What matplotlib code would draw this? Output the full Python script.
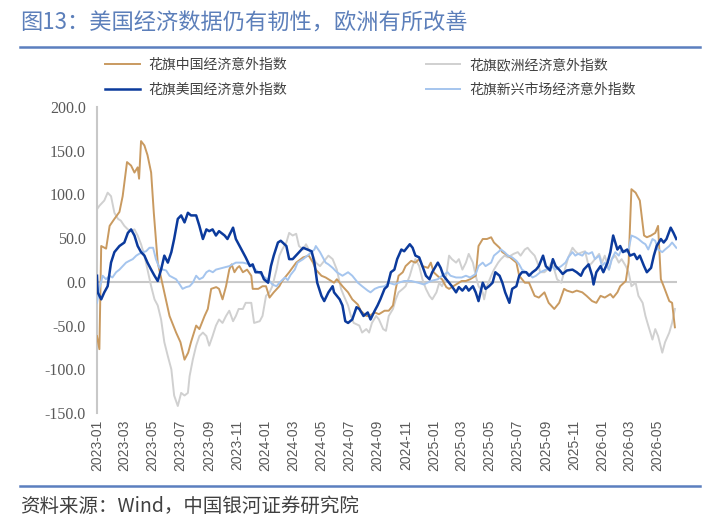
import numpy as np
import pandas as pd
import matplotlib
matplotlib.use("Agg")
import matplotlib.pyplot as plt
import matplotlib.dates as mdates
from matplotlib.lines import Line2D

# 数据：月份偏移（自2023-01起）与指数值，读自原图
cn_t = [0, 0.17, 0.3, 0.65, 0.9, 1.24, 1.6, 1.83, 2.14, 2.43, 2.67, 2.9, 3.0, 3.14, 3.38, 3.6,
        3.86, 4.05, 4.33, 4.7, 5.17, 5.64, 5.95, 6.24, 6.5, 6.7, 7.07, 7.3, 7.67, 7.9, 8.14, 8.5,
        8.7, 8.95, 9.2, 9.43, 9.6, 9.8, 10.0, 10.15, 10.4, 10.7, 11.0, 11.1, 11.5, 11.8, 12.05,
        12.3, 12.6, 13.0, 13.2, 13.7, 14.2, 14.7, 15.1, 15.4, 15.6, 16.0, 16.3, 16.7, 16.9, 17.1,
        17.5, 17.9, 18.2, 18.6, 18.8, 19.2, 19.4, 19.8, 20.1, 20.5, 20.8, 21.1, 21.3, 21.5, 21.8,
        22.0, 22.4, 22.7, 22.97, 23.2, 23.6, 23.8, 24.0, 24.4, 24.6, 24.9, 25.1, 25.6, 26.0, 26.3,
        26.6, 27.0, 27.2, 27.5, 27.8, 28.1, 28.3, 28.7, 28.9, 29.3, 29.6, 29.9, 30.1, 30.5, 30.8,
        31.2, 31.5, 31.9, 32.2, 32.6, 32.95, 33.3, 33.5, 33.9, 34.2, 34.6, 34.9, 35.3, 35.6, 35.9,
        36.2, 36.6, 36.8, 37.1, 37.3, 37.7, 37.9, 38.1, 38.4, 38.7, 39.0, 39.2, 39.5, 39.8, 40.0,
        40.2, 40.4, 40.8, 41.0, 41.2]
cn_v = [-62, -77, 41, 38, 64, 72, 80, 98, 137, 133, 125, 131, 118, 161, 156, 145,
        125, 79, 22, -5, -39, -58, -69, -89, -81, -69, -50, -54, -39, -31, -8, -6,
        -8, -20, -5, 14, 20, 11, 16, 18, 11, 14, 7, -8, -8, -5, -5,
        -18, -12, -5, 1, 11, 22, 28, 30, 22, 14, 7, 5, 1, -1, 3,
        -5, -12, -20, -26, -33, -39, -39, -35, -37, -33, -33, -27, -8, 7, 11,
        18, 24, 22, 26, 18, 16, 22, 11, 5, 3, -6, -8, -3, 1, 1,
        3, 7, 41, 49, 49, 51, 45, 39, 34, 30, 26, 22, 7, -1, -1,
        -16, -18, -12, -24, -31, -24, -8, -10, -12, -10, -12, -16, -22, -24, -16,
        -18, -14, -18, -12, -5, 1, 22, 106, 102, 93, 53, 51, 53, 56, 64,
        3, -5, -22, -24, -52]

us_t = [0, 0.05, 0.3, 0.52, 0.76, 1.0, 1.24, 1.6, 1.95, 2.2, 2.43, 2.67, 2.9, 3.14, 3.38, 3.6,
        3.86, 4.1, 4.33, 4.57, 4.8, 5.05, 5.3, 5.5, 5.76, 6.0, 6.24, 6.48, 6.7, 7.07, 7.3, 7.55,
        7.8, 8.0, 8.24, 8.48, 8.7, 9.1, 9.3, 9.7, 9.9, 10.3, 10.6, 10.9, 11.1, 11.3, 11.7, 11.9,
        12.2, 12.4, 12.6, 12.9, 13.1, 13.5, 13.7, 13.95, 14.3, 14.7, 15.0, 15.3, 15.5, 15.7, 16.0,
        16.2, 16.5, 16.8, 16.9, 17.3, 17.5, 17.7, 17.9, 18.2, 18.5, 18.7, 19.0, 19.3, 19.5, 19.8,
        20.0, 20.2, 20.5, 20.7, 20.95, 21.2, 21.4, 21.7, 21.9, 22.3, 22.5, 22.7, 22.97, 23.2,
        23.45, 23.7, 23.9, 24.3, 24.5, 24.7, 25.0, 25.3, 25.6, 25.8, 26.05, 26.3, 26.5, 26.8,
        27.0, 27.2, 27.5, 27.7, 27.95, 28.2, 28.4, 28.7, 28.9, 29.1, 29.4, 29.6, 29.9, 30.1,
        30.3, 30.6, 30.8, 31.05, 31.3, 31.5, 31.8, 32.0, 32.3, 32.5, 32.7, 32.95, 33.2, 33.5,
        33.9, 34.2, 34.5, 34.7, 35.05, 35.3, 35.4, 35.6, 35.9, 36.1, 36.4, 36.6, 36.8, 37.1,
        37.3, 37.5, 37.8, 38.0, 38.3, 38.5, 38.7, 39.0, 39.2, 39.5, 39.7, 39.9, 40.2, 40.4,
        40.6, 40.9, 41.1, 41.3]
us_v = [7, -12, -20, -12, -5, 22, 34, 41, 45, 56, 60, 53, 41, 34, 30, 22,
        14, 7, 1, 14, 30, 22, 34, 49, 72, 76, 68, 79, 76, 76, 64, 49,
        60, 58, 60, 53, 58, 53, 49, 62, 49, 37, 28, 18, 20, 11, 11, 3,
        -1, 18, 30, 45, 47, 41, 26, 26, 32, 39, 37, 35, 22, -1, -16,
        -22, -12, -5, -12, -20, -27, -45, -47, -43, -29, -31, -39, -35, -43, -33,
        -27, -20, -8, -5, 11, 14, 26, 37, 35, 43, 39, 30, 28, 18,
        7, 3, 11, 22, 16, 7, 1, -5, -12, -6, -10, -5, -10, -5,
        -12, -22, -1, -8, -5, -1, 11, 7, -1, -12, -24, -8, -5, 7,
        11, 11, 7, 11, 14, 18, 30, 18, 13, 26, 18, 14, 9, 13,
        14, 11, 7, 14, 20, 7, -3, 11, 18, 11, 22, 34, 53, 37,
        41, 34, 37, 30, 32, 26, 30, 18, 11, 16, 30, 41, 49, 45,
        49, 62, 56, 49]

eu_t = [0, 0.17, 0.52, 0.76, 1.0, 1.24, 1.5, 1.7, 1.95, 2.2, 2.43, 2.67, 2.9, 3.14, 3.38, 3.6,
        3.86, 4.1, 4.33, 4.57, 4.8, 5.05, 5.3, 5.5, 5.76, 6.0, 6.24, 6.48, 6.6, 6.83, 7.07, 7.3,
        7.55, 7.8, 8.0, 8.24, 8.48, 8.7, 8.95, 9.2, 9.43, 9.7, 9.9, 10.1, 10.4, 10.6, 11.0, 11.2,
        11.6, 11.8, 12.05, 12.3, 12.5, 12.8, 13.0, 13.2, 13.5, 13.7, 13.95, 14.2, 14.4, 14.7,
        14.9, 15.1, 15.4, 15.6, 15.9, 16.1, 16.5, 16.8, 16.9, 17.1, 17.4, 17.6, 17.9, 18.1, 18.3,
        18.7, 18.9, 19.2, 19.4, 19.6, 19.9, 20.1, 20.4, 20.6, 20.8, 21.1, 21.3, 21.5, 21.8, 22.0,
        22.3, 22.5, 22.7, 22.97, 23.2, 23.45, 23.7, 23.9, 24.2, 24.4, 24.6, 24.9, 25.1, 25.3,
        25.6, 25.8, 26.05, 26.3, 26.5, 26.8, 27.0, 27.2, 27.5, 27.6, 27.8, 28.1, 28.3, 28.6,
        28.8, 29.05, 29.3, 29.5, 29.7, 30.0, 30.2, 30.5, 30.7, 30.9, 31.2, 31.4, 31.6, 31.9,
        32.1, 32.4, 32.6, 32.8, 33.1, 33.3, 33.6, 33.9, 34.1, 34.3, 34.6, 34.8, 35.05, 35.3,
        35.5, 35.8, 36.0, 36.2, 36.5, 36.7, 36.95, 37.2, 37.4, 37.7, 37.9, 38.1, 38.4, 38.6,
        38.9, 39.1, 39.3, 39.6, 39.8, 40.0, 40.3, 40.5, 40.8, 41.0, 41.2]
eu_v = [83, 87, 93, 102, 98, 79, 72, 70, 64, 60, 58, 60, 53, 43, 30, 14,
        -5, -20, -27, -43, -69, -85, -100, -130, -142, -127, -130, -127, -108, -89, -73, -62,
        -58, -62, -73, -62, -50, -43, -47, -39, -33, -45, -39, -31, -31, -24, -24, -47,
        -45, -39, -16, -12, -5, 14, 30, 37, 45, 56, 53, 55, 41, 37,
        43, 37, 30, 22, 18, 22, 30, 26, 22, 14, -8, -16, -27, -39, -47,
        -50, -58, -54, -58, -47, -39, -43, -54, -56, -39, -31, -20, -12, -8, -5,
        7, 18, 26, 18, 3, -8, -16, -20, -12, -1, -5, 7, 30, 26,
        22, 26, 14, 22, 32, 22, 7, -5, -12, -20, -5, 7, 14, 22,
        26, 30, 28, 30, 32, 34, 30, 37, 39, 35, 30, 22, 11, 11,
        14, 22, 14, 3, -1, 11, 28, 39, 35, 32, 34, 35, 18, 22,
        26, 32, 22, 30, 14, 26, 30, 22, 26, 18, 11, -5, -1, -16,
        -24, -39, -50, -66, -54, -62, -81, -69, -58, -47, -31]

em_t = [0, 0.17, 0.4, 0.64, 0.9, 1.1, 1.36, 1.6, 1.83, 2.07, 2.3, 2.55, 2.8, 3.0, 3.26, 3.5,
        3.74, 4.0, 4.2, 4.45, 4.7, 4.93, 5.17, 5.4, 5.64, 5.9, 6.1, 6.36, 6.6, 6.83, 7.07, 7.3,
        7.55, 7.8, 8.0, 8.26, 8.48, 8.95, 9.43, 9.9, 10.4, 10.9, 11.3, 11.8, 12.3, 12.5, 12.8,
        13.0, 13.4, 13.6, 13.8, 14.1, 14.3, 14.7, 15.0, 15.3, 15.5, 15.6, 15.9, 16.1, 16.3, 16.5,
        16.8, 17.1, 17.5, 17.9, 18.2, 18.6, 18.9, 19.3, 19.5, 19.8, 20.1, 20.5, 20.8, 21.2, 21.5,
        21.9, 22.4, 22.9, 23.3, 23.8, 24.3, 24.6, 25.0, 25.2, 25.6, 26.0, 26.3, 26.6, 27.0, 27.2,
        27.5, 27.7, 28.1, 28.3, 28.6, 28.8, 29.05, 29.3, 29.6, 29.9, 30.1, 30.3, 30.6, 30.8,
        31.05, 31.3, 31.6, 32.0, 32.4, 32.7, 33.1, 33.4, 33.6, 33.9, 34.1, 34.3, 34.6, 34.8,
        35.05, 35.3, 35.5, 35.8, 36.0, 36.2, 36.5, 36.7, 36.95, 37.2, 37.4, 37.7, 37.9, 38.1,
        38.4, 38.6, 38.9, 39.1, 39.3, 39.6, 39.8, 40.0, 40.3, 40.5, 40.8, 41.0, 41.3]
em_v = [-24, -8, 7, 3, 7, 5, 11, 14, 18, 22, 24, 26, 30, 32, 34, 35,
        39, 39, 26, 16, 14, 13, 7, 5, 3, -3, -8, -6, -5, -1, 7, 3,
        5, 11, 13, 11, 14, 16, 18, 22, 22, 20, 14, 7, 1, -3, -5,
        -1, 5, 2, 8, 14, 22, 26, 30, 34, 37, 41, 34, 28, 22, 20,
        16, 11, 7, 11, 7, -1, -5, -10, -12, -8, -6, -5, -1, -3, -1,
        1, 1, -1, -3, 1, 3, 7, 11, 7, 5, 5, 7, 5, 9, 18,
        22, 18, 22, 30, 34, 37, 34, 30, 28, 24, 20, 14, 11, 9,
        5, 7, 11, 14, 18, 14, 18, 22, 28, 34, 30, 32, 30, 34,
        32, 34, 26, 30, 18, 22, 14, 26, 34, 30, 37, 34, 37, 53,
        51, 49, 45, 43, 37, 49, 47, 37, 34, 37, 41, 45, 39]

names = ['花旗中国经济意外指数', '花旗美国经济意外指数', '花旗欧洲经济意外指数', '花旗新兴市场经济意外指数']

plt.rcParams['font.family'] = ['Noto Sans CJK SC', 'DejaVu Sans']

start = pd.Timestamp('2023-01-01')


def to_dates(t):
    return start + pd.to_timedelta(np.array(t) * 30.4375, unit='D')


W, H = 719, 526
fig = plt.figure(figsize=(W / 100, H / 100), dpi=100)
ax = fig.add_axes([97 / W, 1 - 413 / H, (677 - 97) / W, (413 - 107) / H])

ax.axhline(0, color='#C8C8C8', lw=1.5, zorder=1)
l_eu, = ax.plot(to_dates(eu_t), eu_v, color='#D0D0D0', lw=1.4, zorder=2)
l_cn, = ax.plot(to_dates(cn_t), cn_v, color='#C99A60', lw=1.4, zorder=3)
l_em, = ax.plot(to_dates(em_t), em_v, color='#A5C5EE', lw=1.4, zorder=4)
l_us, = ax.plot(to_dates(us_t), us_v, color='#0B3A9C', lw=1.8, zorder=5)

ax.set_xlim(start, start + pd.Timedelta(days=41.35 * 30.4375))
ax.set_ylim(-150, 200)
ax.set_yticks(np.arange(-150, 201, 50))
ax.yaxis.set_major_formatter(plt.FormatStrFormatter('%.1f'))
ax.xaxis.set_major_locator(mdates.MonthLocator(bymonth=[1, 3, 5, 7, 9, 11]))
ax.xaxis.set_major_formatter(mdates.DateFormatter('%Y-%m'))

for s in ['top', 'right', 'bottom']:
    ax.spines[s].set_visible(False)
ax.spines['left'].set_color('#C8C8C8')
ax.spines['left'].set_linewidth(1.5)
ax.tick_params(length=0)
ax.tick_params(axis='y', pad=8, labelsize=11.5, labelcolor='#595959')
ax.tick_params(axis='x', pad=5, labelsize=10, labelcolor='#595959', rotation=90)
for lb in ax.get_yticklabels():
    lb.set_family('Liberation Serif')
for lb in ax.get_xticklabels():
    lb.set_family('Liberation Sans')

fig.legend([l_cn, l_us, l_eu, l_em], names, ncol=2, loc='upper left',
           bbox_to_anchor=(105 / W, 1 - 58 / H), frameon=False, fontsize=10,
           labelcolor='#404040', handlelength=2.5, handletextpad=0.6,
           columnspacing=10.0, labelspacing=0.75, borderpad=0, borderaxespad=0)

fig.text(20 / W, 1 - 23 / H, '图13：美国经济数据仍有韧性，欧洲有所改善',
         fontsize=16, color='#5C7FBA', va='center', ha='left')
fig.add_artist(Line2D([20 / W, 700 / W], [1 - 47 / H] * 2, color='#5B7FBF', lw=1.8))
fig.add_artist(Line2D([20 / W, 700 / W], [1 - 486 / H] * 2, color='#5B7FBF', lw=1.8))
fig.text(20 / W, 1 - 506 / H, '资料来源：Wind，中国银河证券研究院',
         fontsize=14, color='#404040', va='center', ha='left')

fig.savefig('out.png', dpi=100)
